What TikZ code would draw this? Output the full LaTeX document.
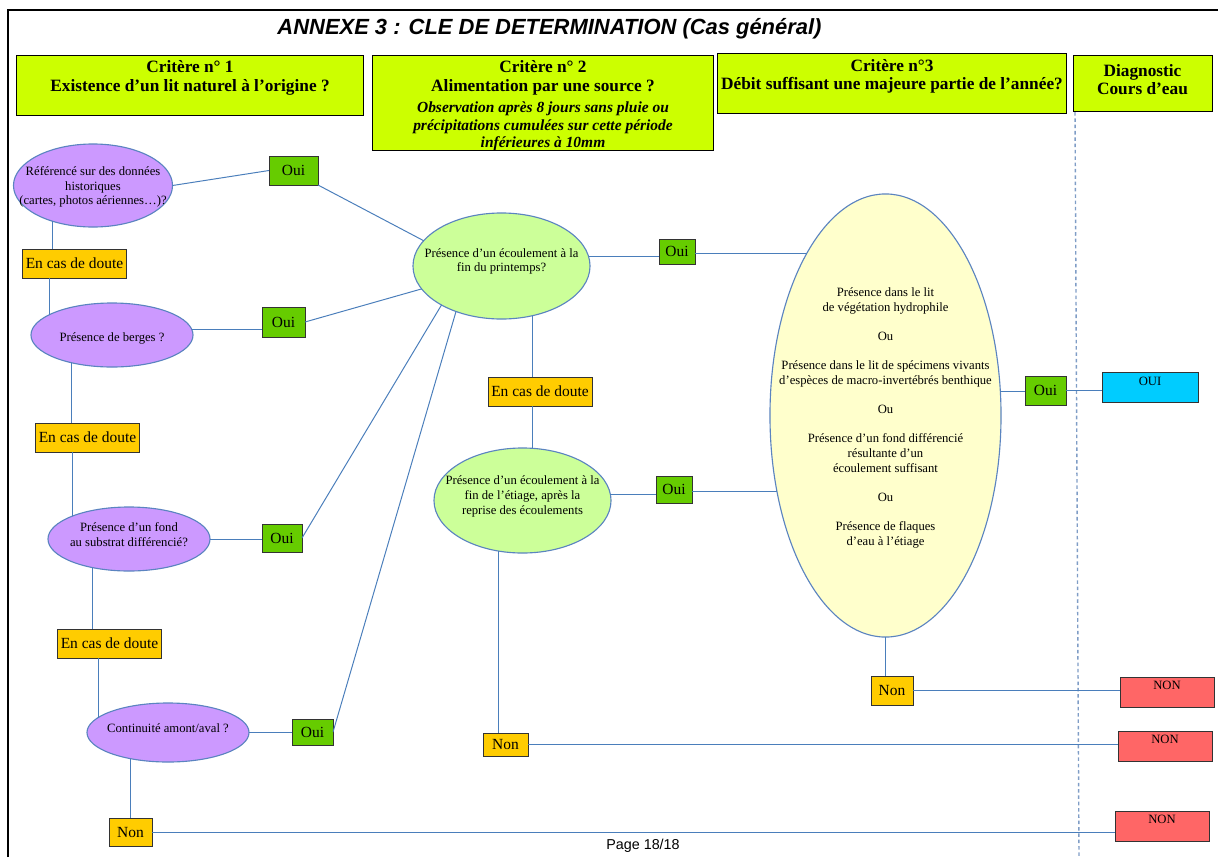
\documentclass[tikz,border=0pt]{standalone}
\usepackage{fontspec}
\setmainfont{Liberation Serif}
\newfontfamily\titlefont{Liberation Sans}
\usetikzlibrary{shapes.geometric}
\definecolor{limehd}{HTML}{CCFF00}
\definecolor{mauve}{HTML}{CC99FF}
\definecolor{vertpale}{HTML}{CCFF99}
\definecolor{jaunepale}{HTML}{FFFFCC}
\definecolor{vertoui}{HTML}{66CC00}
\definecolor{orangedoute}{HTML}{FFCC00}
\definecolor{cyanoui}{HTML}{00CCFF}
\definecolor{rougenon}{HTML}{FF6666}
\definecolor{trait}{HTML}{4A7EBB}
\definecolor{ovalc}{HTML}{5B84C0}
\definecolor{pointille}{HTML}{7F9DC6}
\begin{document}
\begin{tikzpicture}[x=0.025cm,y=-0.025cm,
  every node/.style={inner sep=1pt,outer sep=0pt},
  critbox/.style={draw=black,line width=0.7pt,fill=limehd},
  crittxt/.style={align=center,font=\bfseries\fontsize{12.3}{13.2}\selectfont},
  oval/.style={ellipse,draw=ovalc,line width=0.8pt},
  ovaltxt/.style={align=center,font=\fontsize{9}{10.5}\selectfont},
  tag/.style={draw=black!80,line width=0.6pt,font=\fontsize{11}{12}\selectfont},
  oui/.style={tag,fill=vertoui},
  non/.style={tag,fill=orangedoute},
  doute/.style={tag,fill=orangedoute,minimum width=2.6cm,minimum height=0.725cm},
  diag/.style={draw=black!80,line width=0.6pt,minimum width=2.35cm,font=\fontsize{9}{10}\selectfont,text height=6.7pt,text depth=9.6pt,inner ysep=2.5pt},
  link/.style={draw=trait,line width=0.7pt}]
  \useasboundingbox (0,0) rectangle (1218,857);
  \draw[line width=2pt] (8,857) -- (8,10) -- (1218,10);
  \draw[pointille,line width=1pt,dash pattern=on 2.5pt off 2pt] (1075,112) -- (1079,857);
  \node[font=\titlefont\bfseries\itshape\fontsize{15.6}{18}\selectfont] (titre) at (549.5,28.5) {ANNEXE 3 : CLE DE DETERMINATION (Cas général)};
  \node[critbox,minimum width=8.65cm,minimum height=1.5cm] (crit1) at (190,85) {};
  \node[crittxt] (crit1t) at (190,78) {Critère n° 1\\Existence d’un lit naturel à l’origine ?};
  \node[critbox,minimum width=8.5cm,minimum height=2.375cm] (crit2) at (543,102.5) {};
  \node[crittxt] (crit2t) at (543,106) {Critère n° 2\\Alimentation par une source ?\\[2pt]
    {\itshape\fontsize{11}{12.1}\selectfont Observation après 8 jours sans pluie ou}\\[-0.8pt]
    {\itshape\fontsize{11}{12.1}\selectfont précipitations cumulées sur cette période}\\[-0.8pt]
    {\itshape\fontsize{11}{12.1}\selectfont inférieures à 10mm}};
  \node[critbox,minimum width=8.7cm,minimum height=1.5cm] (crit3) at (892,83) {};
  \node[crittxt] (crit3t) at (892,76.5) {Critère n°3\\Débit suffisant une majeure partie de l’année?};
  \node[critbox,minimum width=3.475cm,minimum height=1.4cm] (diagb) at (1142.5,83) {};
  \node[crittxt] (diagt) at (1142.5,79.5) {Diagnostic\\Cours d’eau};
  \node[oval,fill=mauve,minimum width=3.975cm,minimum height=2.075cm] (ref) at (93,185.5) {};
  \node[ovaltxt] (reft) at (93,187) {Référencé sur des données\\historiques\\(cartes, photos aériennes…)?};
  \node[oui,minimum width=1.225cm,minimum height=0.725cm] (oui1) at (293.5,170.5) {Oui};
  \node[doute] (doute1) at (74.5,263.5) {En cas de doute};
  \node[oval,fill=mauve,minimum width=4.05cm,minimum height=1.6cm] (berges) at (112,335) {};
  \node[ovaltxt] (bergest) at (112,338) {Présence de berges ?};
  \node[oui,minimum width=1.075cm,minimum height=0.75cm] (oui2) at (283.5,322) {Oui};
  \node[doute] (doute2) at (87.5,437.5) {En cas de doute};
  \node[oval,fill=mauve,minimum width=4.05cm,minimum height=1.6cm] (fond) at (129,539) {};
  \node[ovaltxt] (fondt) at (129,534.5) {Présence d’un fond\\au substrat différencié?};
  \node[oui,minimum width=1cm,minimum height=0.7cm] (oui3) at (282,538) {Oui};
  \node[doute] (doute3) at (109.5,643.5) {En cas de doute};
  \node[oval,fill=mauve,minimum width=4.05cm,minimum height=1.475cm] (continu) at (168,732.5) {};
  \node[ovaltxt] (continut) at (168,728) {Continuité amont/aval ?};
  \node[oui,minimum width=1.025cm,minimum height=0.65cm] (oui4) at (312.5,732) {Oui};
  \node[non,minimum width=1.075cm,minimum height=0.7cm] (non1) at (130.5,832) {Non};
  \node[oval,fill=vertpale,minimum width=4.425cm,minimum height=2.65cm] (printemps) at (501.5,266) {};
  \node[ovaltxt] (printempst) at (501.5,261.5) {Présence d’un écoulement à la\\fin du printemps?};
  \node[oui,minimum width=0.9cm,minimum height=0.625cm] (oui5) at (677,251.5) {Oui};
  \node[doute] (doute4) at (540,391.5) {En cas de doute};
  \node[oval,fill=vertpale,minimum width=4.425cm,minimum height=2.625cm] (etiage) at (522.5,500.5) {};
  \node[ovaltxt] (etiaget) at (522.5,496.5) {Présence d’un écoulement à la\\fin de l’étiage, après la\\reprise des écoulements};
  \node[oui,minimum width=0.9cm,minimum height=0.675cm] (oui6) at (674,489.5) {Oui};
  \node[non,minimum width=1.125cm,minimum height=0.575cm] (non2) at (505.5,744.5) {Non};
  \node[oval,fill=jaunepale,minimum width=5.775cm,minimum height=11.075cm] (debit) at (885.5,415.5) {};
  \node[ovaltxt,font=\fontsize{9}{10.4}\selectfont] (debitt) at (885.5,418) {Présence dans le lit\\de végétation hydrophile\\[10.4pt]Ou\\[10.4pt]Présence dans le lit de spécimens vivants\\d’espèces de macro-invertébrés benthique\\[10.4pt]Ou\\[10.4pt]Présence d’un fond différencié\\résultante d’un\\écoulement suffisant\\[10.4pt]Ou\\[10.4pt]Présence de flaques\\d’eau à l’étiage};
  \node[oui,minimum width=1.025cm,minimum height=0.725cm] (oui7) at (1045.5,390.5) {Oui};
  \node[diag,fill=cyanoui,minimum width=2.4cm] (ouib) at (1150,387.5) {OUI};
  \node[non,minimum width=1.05cm,minimum height=0.725cm] (non3) at (892,690.5) {Non};
  \node[diag,fill=rougenon] (nona) at (1167,692) {NON};
  \node[diag,fill=rougenon] (nonb) at (1165,746) {NON};
  \node[diag,fill=rougenon] (nonc) at (1162,826) {NON};
  \node[font=\titlefont\fontsize{10.2}{12}\selectfont] (page) at (643,846) {Page 18/18};
  \draw[link] (ref.east) -- (oui1.west);
  \draw[link] (oui1.south east) -- (printemps.162);
  \draw[link] (berges.4) -- (berges.4 -| oui2.west);
  \draw[link] (oui2.east) -- (printemps.196);
  \draw[link] (fond.east) -- (fond.east -| oui3.west);
  \draw[link] (oui3.east) -- (printemps.213);
  \draw[link] (continu.east) -- (continu.east -| oui4.west);
  \draw[link] (oui4.east) -- (printemps.225);
  \draw[link] (ref.221) -- (ref.221 |- doute1.north);
  \draw[link] (berges.162) -- (berges.162 |- doute1.south);
  \draw[link] (berges.214) -- (berges.214 |- doute2.north);
  \draw[link] (fond.158) -- (fond.158 |- doute2.south);
  \draw[link] (fond.218) -- (fond.218 |- doute3.north);
  \draw[link] (continu.168) -- (continu.168 |- doute3.south);
  \draw[link] (continu.215) -- (continu.215 |- non1.north);
  \draw[link] (non1.east) -- (non1.east -| nonc.west);
  \draw[link] (printemps.6) -- (printemps.6 -| oui5.west);
  \draw[link] (debit.116 -| oui5.east) -- (debit.116);
  \draw[link] (printemps.302) -- (printemps.302 |- doute4.north);
  \draw[link] (etiage.79) -- (etiage.79 |- doute4.south);
  \draw[link] (etiage.4) -- (etiage.4 -| oui6.west);
  \draw[link] (debit.215 -| oui6.east) -- (debit.215);
  \draw[link] (etiage.245) -- (etiage.245 |- non2.north);
  \draw[link] (non2.east) -- (non2.east -| nonb.west);
  \draw[link] (debit.12) -- (debit.12 -| oui7.west);
  \draw[link] (oui7.east) -- (oui7.east -| ouib.west);
  \draw[link] (debit.south) -- (debit.south |- non3.north);
  \draw[link] (non3.east) -- (non3.east -| nona.west);
\end{tikzpicture}
\end{document}
